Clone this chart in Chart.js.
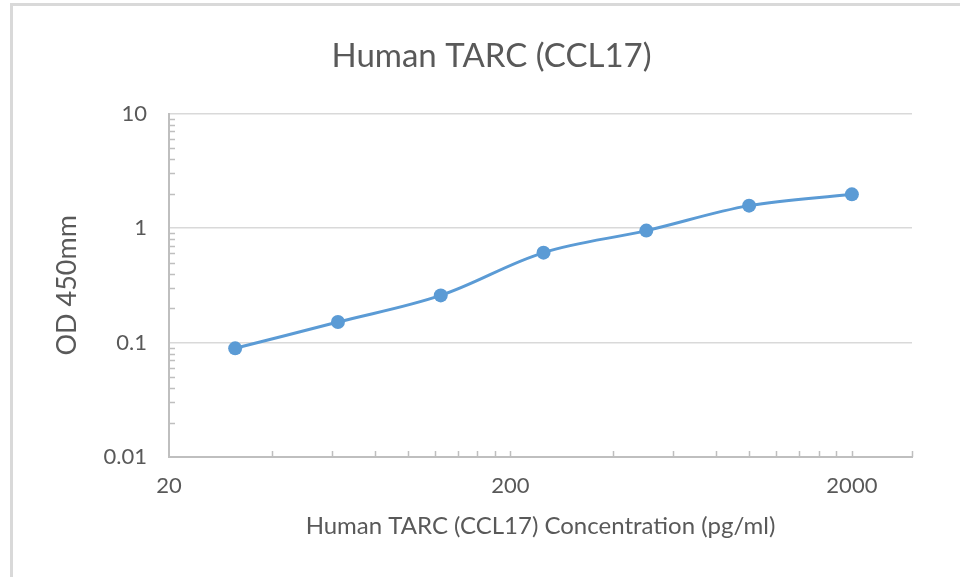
<!DOCTYPE html>
<html>
<head>
<meta charset="utf-8">
<script src="https://cdn.jsdelivr.net/npm/chart.js@4/dist/chart.umd.min.js"></script>
<style>
  html, body { margin: 0; padding: 0; background: #fff; }
  #wrap { width: 960px; height: 577px; }
</style>
</head>
<body>
<div id="wrap"><canvas id="chart" width="960" height="577"></canvas></div>
<script>
/* ── data ── */
const concentrations = [31.25, 62.5, 125, 250, 500, 1000, 2000];
const odValues       = [0.089, 0.151, 0.258, 0.61, 0.95, 1.57, 1.97];
const xTickValues    = [20, 200, 2000];
const yTickValues    = [0.01, 0.1, 1, 10];

const TEXT = '#595959';
const BLUE = '#5B9BD5';
const FONT = 'Lato, "Open Sans", sans-serif';

/* minor tick marks (drawn inside the plot, like Excel) */
const minorTicks = {
  id: 'minorTicks',
  beforeDatasetsDraw(chart) {
    const { ctx, chartArea: a, scales: { x, y } } = chart;
    ctx.save();
    ctx.strokeStyle = '#bfbfbf';
    ctx.lineWidth = 1.5;
    ctx.beginPath();
    // y: 2..9 in every decade
    for (const d of [0.01, 0.1, 1]) {
      for (let k = 2; k <= 9; k++) {
        const py = Math.round(y.getPixelForValue(k * d)) + 0.5;
        ctx.moveTo(a.left, py);
        ctx.lineTo(a.left + 6, py);
      }
    }
    // x: steps of 20 / 200 inside each decade, plus the axis end
    const xs = [];
    for (const d of [20, 200]) for (let k = 2; k <= 10; k++) xs.push(k * d);
    xs.push(x.max);
    for (const v of xs) {
      const px = Math.round(x.getPixelForValue(v)) + 0.5;
      ctx.moveTo(px, a.bottom);
      ctx.lineTo(px, a.bottom - 6);
    }
    ctx.stroke();
    ctx.restore();
  }
};

/* white background + thin frame on the left / top */
const frame = {
  id: 'frame',
  beforeDraw(chart) {
    const { ctx, width, height } = chart;
    ctx.save();
    ctx.fillStyle = '#fff';
    ctx.fillRect(0, 0, width, height);
    ctx.fillStyle = '#d9d9d9';
    ctx.fillRect(10, 3, 3, height - 3);
    ctx.fillRect(10, 3, width - 10, 3);
    ctx.restore();
  }
};

new Chart(document.getElementById('chart'), {
  type: 'line',
  data: {
    datasets: [{
      data: concentrations.map((c, i) => ({ x: c, y: odValues[i] })),
      borderColor: BLUE,
      backgroundColor: BLUE,
      borderWidth: 3,
      pointRadius: 7,
      pointHoverRadius: 7,
      pointBackgroundColor: BLUE,
      pointBorderWidth: 0,
      tension: 0.35,
      fill: false,
    }],
  },
  options: {
    responsive: false,
    animation: false,
    layout: { padding: { left: 23, right: 0, top: 0, bottom: 0 } },
    plugins: {
      legend: { display: false },
      tooltip: { enabled: false },
      title: {
        display: true,
        text: 'Human TARC (CCL17)',
        color: TEXT,
        font: { family: FONT, size: 33, weight: 'normal' },
        padding: { top: 37, bottom: 37 },
      },
    },
    scales: {
      x: {
        type: 'logarithmic',
        min: 20,
        max: 3000,
        afterBuildTicks: s => { s.ticks = xTickValues.map(v => ({ value: v })); },
        afterFit: s => { s.height = 120; s.paddingRight = 48; },
        ticks: {
          color: TEXT,
          font: { family: FONT, size: 22 },
          padding: 16,
          maxRotation: 0,
          callback: v => String(v),
        },
        grid: { display: false, drawTicks: false },
        border: { display: true, color: '#bfbfbf', width: 2 },
        title: {
          display: true,
          text: 'Human TARC (CCL17) Concentration (pg/ml)',
          color: TEXT,
          font: { family: FONT, size: 24 },
          padding: { top: 0, bottom: 36 },
        },
      },
      y: {
        type: 'logarithmic',
        min: 0.01,
        max: 10,
        afterBuildTicks: s => { s.ticks = yTickValues.map(v => ({ value: v })); },
        afterFit: s => { s.width = 146; },
        ticks: {
          color: TEXT,
          font: { family: FONT, size: 22 },
          padding: 22,
          callback: v => String(v),
        },
        grid: { color: '#d9d9d9', lineWidth: 1.5, drawTicks: false },
        border: { display: true, color: '#bfbfbf', width: 2 },
        title: {
          display: true,
          text: 'OD 450mm',
          color: TEXT,
          font: { family: FONT, size: 27 },
          padding: { top: 28, bottom: 0 },
        },
      },
    },
  },
  plugins: [frame, minorTicks],
});
</script>
</body>
</html>
